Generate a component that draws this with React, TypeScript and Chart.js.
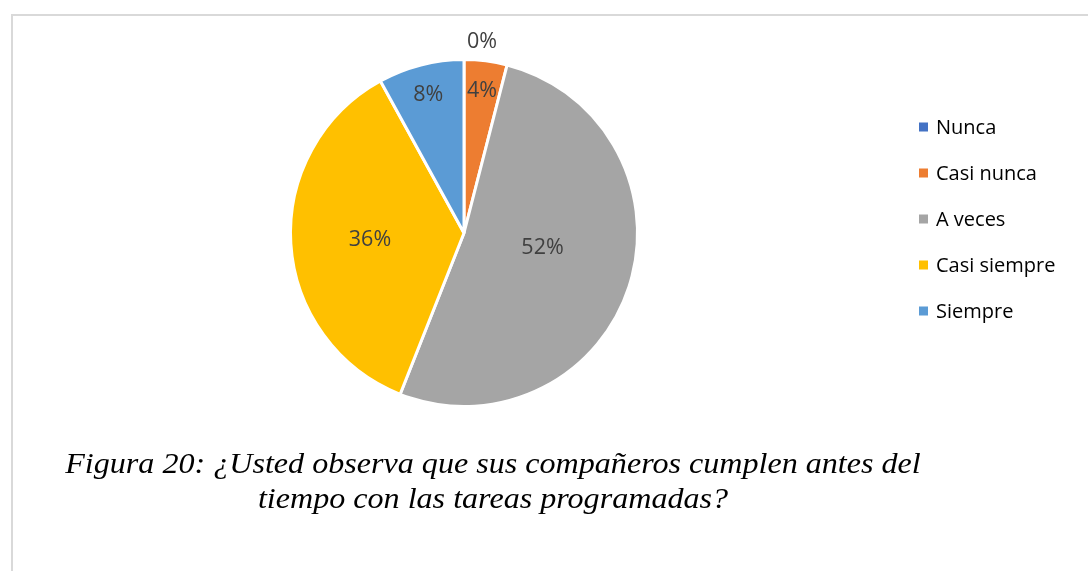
import React, { useEffect, useRef } from "react";
import { Chart, registerables } from "chart.js";

Chart.register(...registerables);

const categories = ["Nunca", "Casi nunca", "A veces", "Casi siempre", "Siempre"];
const counts = [0, 1, 13, 9, 2];
const percentLabels = ["0%", "4%", "52%", "36%", "8%"];
const colors = ["#4472C4", "#ED7D31", "#A5A5A5", "#FFC000", "#5B9BD5"];
const captionLines = [
  "Figura 20: ¿Usted observa que sus compañeros cumplen antes del",
  "tiempo con las tareas programadas?",
];

const FONT = '"Open Sans", "Noto Sans", sans-serif';

const labelPlugin = {
  id: "sliceLabels",
  afterDatasetsDraw(chart: any) {
    const ctx = chart.ctx;
    const meta = chart.getDatasetMeta(0);
    const data = chart.data.datasets[0].data as number[];
    const total = data.reduce((a, b) => a + b, 0);
    ctx.save();
    ctx.font = `21.5px ${FONT}`;
    ctx.fillStyle = "#404040";
    ctx.textAlign = "center";
    ctx.textBaseline = "middle";
    meta.data.forEach((arc: any, i: number) => {
      const { x, y, startAngle, endAngle, outerRadius } = arc.getProps(
        ["x", "y", "startAngle", "endAngle", "outerRadius"],
        true
      );
      const share = data[i] / total;
      let mid = (startAngle + endAngle) / 2;
      let px: number, py: number;
      if (share === 0) {
        px = x + Math.cos(mid) * (outerRadius + 18) + 18;
        py = y + Math.sin(mid) * (outerRadius + 18);
      } else {
        if (share > 0.5) mid -= 0.14;
        const f = share < 0.15 ? 0.83 : 0.73 - 0.52 * share;
        px = x + Math.cos(mid) * outerRadius * f;
        py = y + Math.sin(mid) * outerRadius * f + 1;
      }
      ctx.fillText(percentLabels[i], px, py);
    });
    ctx.restore();
  },
};

const legendPlugin = {
  id: "sideLegend",
  afterDraw(chart: any) {
    const ctx = chart.ctx;
    const labels = chart.data.labels as string[];
    const bg = chart.data.datasets[0].backgroundColor as string[];
    ctx.save();
    ctx.font = `20px ${FONT}`;
    ctx.textAlign = "left";
    ctx.textBaseline = "middle";
    labels.forEach((lab, i) => {
      const cy = 127 + i * 46;
      ctx.fillStyle = bg[i];
      ctx.fillRect(919, cy - 4.5, 9, 9);
      ctx.fillStyle = "#000000";
      ctx.fillText(lab, 936, cy + 1);
    });
    ctx.restore();
  },
};

export default function App() {
  const ref = useRef<HTMLCanvasElement | null>(null);

  useEffect(() => {
    if (!ref.current) return;
    const chart = new Chart(ref.current, {
      type: "pie",
      data: {
        labels: categories,
        datasets: [
          {
            data: counts,
            backgroundColor: colors,
            borderColor: "#ffffff",
            borderWidth: 3,
          },
        ],
      },
      options: {
        responsive: false,
        animation: false,
        devicePixelRatio: 1,
        layout: { padding: { left: 289, right: 449, top: 58, bottom: 163 } },
        plugins: {
          legend: { display: false },
          tooltip: { enabled: false },
          title: { display: false },
        },
      },
      plugins: [labelPlugin, legendPlugin],
    });
    return () => chart.destroy();
  }, []);

  return (
    <div
      style={{
        position: "absolute",
        left: 0,
        top: 0,
        width: 1088,
        height: 571,
        overflow: "hidden",
        background: "#ffffff",
      }}
    >
      <div
        style={{
          position: "absolute",
          left: 11,
          top: 14,
          width: 1200,
          height: 700,
          borderLeft: "2px solid #d9d9d9",
          borderTop: "2px solid #d9d9d9",
        }}
      />
      <canvas
        ref={ref}
        width={1088}
        height={571}
        style={{ position: "absolute", left: 0, top: 0, width: 1088, height: 571 }}
      />
      <div
        style={{
          position: "absolute",
          left: 0,
          top: 445,
          width: 986,
          textAlign: "center",
          fontFamily: '"Liberation Serif", "Times New Roman", serif',
          fontStyle: "italic",
          fontSize: 30,
          lineHeight: "35px",
          color: "#000000",
          transform: "scaleX(1.07)",
          transformOrigin: "493px 0",
          whiteSpace: "nowrap",
        }}
      >
        {captionLines.map((l, i) => (
          <div key={i}>{l}</div>
        ))}
      </div>
    </div>
  );
}
